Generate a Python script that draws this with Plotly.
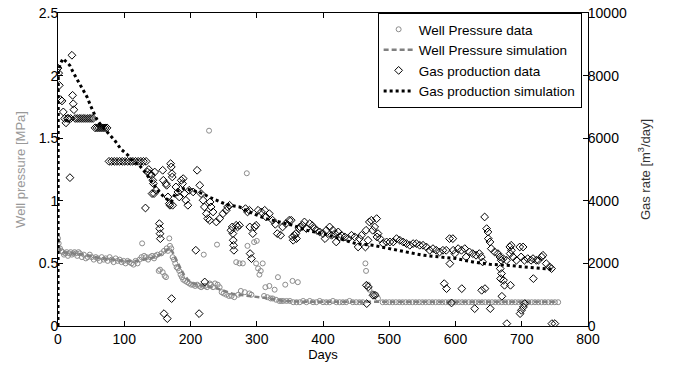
import plotly.graph_objects as go

# ---------------- data ----------------
p_days = [0, 1, 3, 5, 7, 9, 11, 13, 15, 17, 19, 21, 23, 25, 27, 29, 31, 33, 36, 39,
          42, 45, 48, 51, 54, 57, 60, 63, 66, 69, 72, 75, 78, 81, 84, 87, 90, 93, 96, 99,
          102, 105, 108, 111, 114, 117, 120, 123, 126, 127, 130, 133, 136, 139, 142, 145, 147, 150, 152, 154,
          156, 158, 160, 161, 163, 164, 166, 168, 169, 171, 173, 175, 177, 179, 181, 183, 185, 187, 189, 192,
          195, 198, 201, 204, 207, 210, 213, 216, 219, 220, 222, 225, 228, 229, 231, 234, 237, 240, 241, 244,
          247, 250, 254, 258, 262, 266, 269, 272, 274, 276, 279, 282, 285, 286, 289, 292, 296, 299, 300, 302,
          304, 306, 309, 311, 313, 316, 319, 321, 324, 327, 329, 332, 334, 337, 340, 343, 345, 350, 354, 355,
          360, 362, 365, 370, 375, 380, 385, 390, 395, 400, 405, 410, 415, 420, 425, 430, 435, 440, 445, 450,
          455, 460, 464, 465, 468, 470, 475, 480, 483, 490, 495, 500, 505, 510, 515, 520, 525, 530, 535, 540,
          545, 550, 555, 560, 565, 570, 575, 580, 585, 590, 595, 600, 605, 610, 615, 620, 625, 630, 635, 640,
          645, 650, 655, 660, 665, 670, 675, 680, 685, 690, 695, 700, 705, 710, 715, 720, 725, 730, 735, 740,
          745, 750, 755]
p_vals = [0.70, 0.66, 0.62, 0.60, 0.59, 0.57, 0.58, 0.59, 0.56, 0.58, 0.59, 0.57, 0.58, 0.59, 0.58, 0.56, 0.59, 0.58, 0.55, 0.57,
          0.54, 0.55, 0.57, 0.55, 0.53, 0.55, 0.54, 0.52, 0.55, 0.53, 0.54, 0.52, 0.55, 0.53, 0.51, 0.54, 0.52, 0.53, 0.51, 0.52,
          0.50, 0.52, 0.51, 0.50, 0.49, 0.52, 0.50, 0.53, 0.55, 0.66, 0.56, 0.55, 0.53, 0.55, 0.56, 0.54, 0.56, 0.57, 0.44, 0.45,
          0.58, 0.43, 0.60, 0.40, 0.39, 0.62, 0.60, 0.70, 0.64, 0.62, 0.55, 0.53, 0.50, 0.47, 0.46, 0.44, 0.41, 0.39, 0.37, 0.36,
          0.35, 0.34, 0.33, 0.33, 0.32, 0.33, 0.32, 0.31, 0.32, 0.57, 0.32, 0.31, 1.56, 0.34, 0.33, 0.31, 0.34, 0.65, 0.33, 0.31,
          0.27, 0.26, 0.25, 0.24, 0.24, 0.23, 0.51, 0.25, 0.50, 0.28, 0.50, 0.27, 1.22, 0.64, 0.26, 0.25, 0.67, 0.50, 0.68, 0.46,
          0.41, 0.44, 0.50, 0.24, 0.31, 0.23, 0.32, 0.22, 0.22, 0.29, 0.21, 0.39, 0.20, 0.20, 0.20, 0.33, 0.20, 0.20, 0.36, 0.19,
          0.19, 0.35, 0.19, 0.20, 0.19, 0.20, 0.19, 0.19, 0.20, 0.19, 0.19, 0.19, 0.20, 0.19, 0.19, 0.19, 0.19, 0.20, 0.19, 0.19,
          0.19, 0.19, 0.50, 0.44, 0.33, 0.29, 0.26, 0.25, 0.22, 0.19, 0.19, 0.19, 0.19, 0.19, 0.19, 0.19, 0.19, 0.19, 0.19, 0.19,
          0.19, 0.19, 0.19, 0.19, 0.19, 0.19, 0.19, 0.19, 0.19, 0.19, 0.19, 0.19, 0.19, 0.19, 0.19, 0.19, 0.19, 0.19, 0.19, 0.19,
          0.19, 0.19, 0.19, 0.19, 0.19, 0.19, 0.19, 0.19, 0.19, 0.19, 0.19, 0.19, 0.19, 0.19, 0.19, 0.19, 0.19, 0.19, 0.19, 0.19,
          0.19, 0.19, 0.19]

psim_days = [0, 2, 5, 20, 40, 60, 80, 100, 120, 140, 155, 162, 168, 172, 178, 184, 190, 196, 204, 215,
             225, 240, 255, 265, 280, 300, 320, 340, 360, 400, 500, 600, 700, 750]
psim_vals = [0.70, 0.62, 0.59, 0.58, 0.57, 0.545, 0.535, 0.52, 0.52, 0.54, 0.57, 0.60, 0.62, 0.60, 0.53, 0.47, 0.41, 0.37, 0.34, 0.325,
             0.315, 0.30, 0.27, 0.255, 0.245, 0.235, 0.22, 0.20, 0.195, 0.193, 0.193, 0.193, 0.193, 0.193]

g_days = [0, 1, 2, 4, 6, 8, 10, 12, 14, 16, 18, 19, 21, 22, 23, 24, 26, 29, 32, 35,
          38, 41, 44, 47, 50, 53, 56, 59, 62, 65, 68, 71, 74, 77, 81, 85, 89, 93, 97, 101,
          105, 109, 113, 117, 121, 125, 129, 132, 133, 135, 137, 139, 141, 142, 143, 144, 145, 146, 148, 153,
          153.5, 154, 154.5, 158, 159, 160, 163, 164, 165, 166, 168, 169, 170, 171, 171.5, 172, 172.5, 173, 178, 181,
          183, 186, 188, 189, 191, 193, 196, 198, 204, 208, 210, 213, 214, 216, 219, 221, 221.5, 224, 226, 229,
          229.5, 231, 234, 239, 244, 249, 254, 256, 259, 261, 263, 264, 264.5, 265, 265.5, 269, 271, 274, 283, 286,
          289, 289.5, 290, 292, 294, 297, 299, 302, 307, 312, 314, 319, 324, 328, 331, 336, 339, 344, 349, 352,
          354, 355, 357, 359, 360, 364, 365, 369, 372, 375, 380, 384, 387, 391, 395, 400, 403, 405, 410, 413,
          415, 418, 420, 423, 425, 428, 433, 438, 443, 448, 453, 455, 458, 464, 465, 465.5, 466, 468, 468.5, 470,
          473, 475, 475.5, 478, 478.5, 481, 481.5, 483, 486, 491, 496, 501, 506, 511, 516, 521, 526, 531, 536, 541,
          546, 551, 556, 561, 566, 571, 576, 581, 583, 586, 586.5, 591, 591.5, 594, 596, 596.5, 599, 604, 609, 609.5,
          614, 616, 621, 626, 629, 631, 636, 639, 639.5, 641, 644, 644.5, 647, 649, 649.5, 652, 652.5, 654, 659, 664,
          667, 667.5, 668, 669, 669.5, 670, 672, 672.5, 674, 677, 677.5, 682, 682.5, 683, 684, 684.5, 687, 692, 697, 697.5,
          699, 699.5, 702, 702.5, 704, 704.5, 709, 714, 717, 717.5, 722, 725, 730, 732, 737, 742, 745, 745.5, 750]
g_vals = [8240, 8080, 7690, 7230, 7190, 6840, 6630, 6490, 6630, 6630, 4740, 6630, 8650, 7370, 7100, 6910, 6630, 6630, 6630, 6630,
          6630, 6630, 6630, 6630, 6630, 6630, 6330, 6330, 6330, 6330, 6330, 6330, 6330, 5260, 5260, 5260, 5260, 5260, 5260, 5260,
          5260, 5260, 5260, 5260, 5260, 5260, 5260, 3770, 5260, 4920, 5000, 4870, 4815, 4230, 4655, 4550, 4230, 4920, 4336, 3270,
          3110, 2950, 2790, 4975, 4655, 395, 4549, 4495, 236, 4123, 3910, 3857, 5188, 5082, 875, 4868, 4762, 3857, 4443, 4283,
          4123, 4655, 4549, 4709, 4230, 4017, 3857, 4336, 4283, 2420, 4975, 396, 4496, 4230, 4017, 3804, 1406, 3590, 3431, 3378,
          3963, 3804, 3644, 3324, 3431, 3590, 3697, 3804, 3857, 3058, 3165, 2952, 2739, 2579, 2419, 3218, 3165, 3218, 3750, 3644,
          3697, 3165, 2313, 2153, 2952, 3165, 3218, 3697, 3644, 3697, 3484, 3590, 3378, 3250, 2952, 2899, 3165, 3271, 3378, 3378,
          2846, 2739, 2898, 2952, 2792, 3111, 3165, 3220, 3324, 3111, 3271, 3200, 3111, 3050, 3005, 2952, 2792, 3058, 3165, 2898,
          3058, 2952, 2685, 3005, 2845, 2898, 2845, 2792, 2898, 2845, 2525, 2792, 2898, 2525, 3058, 1301, 715, 2739, 1248, 3324,
          3378, 3058, 981, 3165, 981, 3431, 2845, 2952, 2792, 2632, 2685, 2685, 2685, 2792, 2739, 2685, 2632, 2579, 2632, 2632,
          2579, 2579, 2525, 2419, 2472, 2419, 2366, 2419, 1354, 2419, 1194, 2792, 1993, 736, 2792, 2419, 2313, 2472, 2419, 1194,
          2472, 2206, 2366, 2313, 555, 2260, 2313, 2206, 1141, 2047, 3484, 1194, 3111, 3005, 2792, 2685, 555, 2472, 2366, 2313,
          2206, 1833, 1514, 2100, 1674, 949, 2153, 1461, 1301, 2100, 76, 2525, 2313, 1301, 2579, 2419, 2206, 2100, 2525, 395,
          2206, 502, 2525, 608, 2100, 715, 2153, 2100, 2153, 1514, 2100, 2100, 2206, 2260, 1993, 1887, 1833, 76, 76]

gsim_days = [0, 0.4, 3, 7.5, 12, 17.7, 23, 28.7, 36, 43.8, 50, 58, 63, 70, 75.5, 85.6, 95, 105.7, 113, 123,
             133, 143, 152, 161, 166, 171, 175, 180, 188, 196, 203.5, 211, 218.6, 228, 238.7, 249, 259, 274, 294, 314,
             334, 354.5, 375, 400, 425, 450, 475, 500, 526, 551, 576, 601, 626, 652, 677, 697, 722, 745]
gsim_vals = [0, 8080, 8350, 8543, 8450, 8329, 8100, 7872, 7600, 7317, 7000, 6626, 6466, 6300, 6147, 5933, 5650, 5454, 5262, 5134,
             4869, 4549, 4300, 4100, 4020, 3963, 4150, 4300, 4389, 4360, 4336, 4280, 4230, 4120, 4017, 3930, 3857, 3803, 3590, 3431,
             3324, 3218, 3058, 2952, 2792, 2632, 2579, 2472, 2366, 2260, 2206, 2153, 2047, 1970, 1940, 1900, 1860, 1810]

x_ticks = [0, 100, 200, 300, 400, 500, 600, 700, 800]
y1_ticks = [0, 0.5, 1, 1.5, 2, 2.5]
y2_ticks = [0, 2000, 4000, 6000, 8000, 10000]

FONT = "Liberation Sans, Arial, Helvetica, sans-serif"
GRAY = "#8c8c8c"

fig = go.Figure()
fig.add_trace(go.Scatter(x=p_days, y=p_vals, mode="markers", name="Well Pressure data",
                         marker=dict(symbol="circle-open", size=5, color=GRAY, line=dict(width=1, color=GRAY)),
                         yaxis="y"))
fig.add_trace(go.Scatter(x=psim_days, y=psim_vals, mode="lines", name="Well Pressure simulation",
                         line=dict(color="#808080", width=2.5, dash="5px,3px"), yaxis="y"))
fig.add_trace(go.Scatter(x=g_days, y=g_vals, mode="markers", name="Gas production data",
                         marker=dict(symbol="diamond-open", size=6, color="black", line=dict(width=1, color="black")),
                         yaxis="y2"))
fig.add_trace(go.Scatter(x=gsim_days, y=gsim_vals, mode="lines", name="Gas production simulation",
                         line=dict(color="black", width=3, dash="3px,3px"), yaxis="y2"))

axis_common = dict(showgrid=False, zeroline=False, showline=True, linecolor="black", linewidth=1,
                   ticks="inside", ticklen=5, tickcolor="black", automargin=False,
                   ticklabeloverflow="allow",
                   tickfont=dict(size=14, color="black", family=FONT))

fig.update_layout(
    width=675, height=365,
    margin=dict(l=58, r=87, t=13, b=39, autoexpand=False),
    paper_bgcolor="white", plot_bgcolor="white",
    font=dict(family=FONT, size=14, color="black"),
    showlegend=True,
    legend=dict(x=0.988, y=1, xanchor="right", yanchor="top", bgcolor="white",
                bordercolor="black", borderwidth=1, font=dict(size=13.5, family=FONT, color="black"),
                itemwidth=30, tracegroupgap=0),
    xaxis=dict(range=[0, 800], tickvals=x_ticks, ticktext=[str(v) for v in x_ticks], mirror="ticks",
               title=dict(text="Days", font=dict(size=13, family=FONT), standoff=0), **axis_common),
    yaxis=dict(range=[0, 2.5], tickvals=y1_ticks, ticktext=["0", "0.5", "1", "1.5", "2", "2.5"],
               ticklabelstandoff=-4,
               title=dict(text="Well pressure [MPa]", font=dict(size=13, family=FONT, color="#999999"), standoff=10),
               **axis_common),
    yaxis2=dict(range=[0, 10000], tickvals=y2_ticks, ticktext=[str(v) for v in y2_ticks], overlaying="y", side="right",
                ticklabelstandoff=-4,
                title=dict(text="Gas rate [m<sup>3</sup>/day]", font=dict(size=13, family=FONT, color="#333333"), standoff=14),
                **axis_common),
)

# remove the browser's default 8px body margin so the figure sits at the page origin
fig.write_html("out.html", config={"displayModeBar": False},
               post_script="document.body.style.margin='0';")
